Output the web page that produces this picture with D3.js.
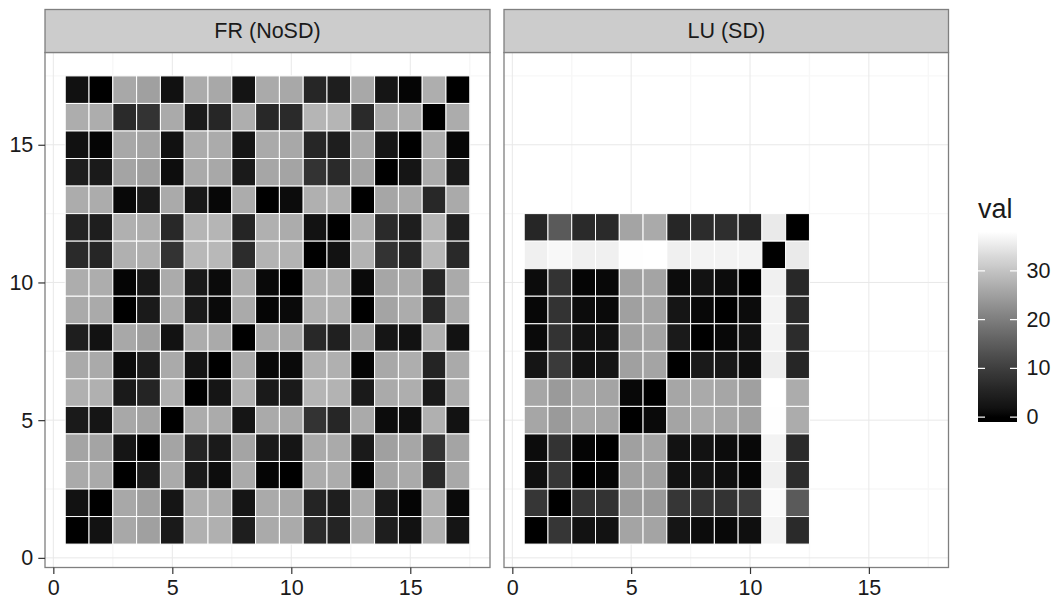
<!DOCTYPE html>
<html>
<head>
<meta charset="utf-8">
<script src="https://cdn.jsdelivr.net/npm/d3@7"></script>
<style>
  html, body { margin: 0; padding: 0; background: #fff; }
  svg { display: block; font-family: "Liberation Sans", Arial, Helvetica, sans-serif; }
</style>
</head>
<body>
<svg id="chart" width="1056" height="600"></svg>
<script>
// Facet labels
const facetLabels = ["FR (NoSD)", "LU (SD)"];

// FR (NoSD): 17 x 17 grid, rows listed from y = 17 (top) down to y = 1
const frVals = [
  [1.9,0,26.2,25.0,1.9,26.6,26.2,2.4,26.4,26.2,5.8,4.3,26.2,2.6,0.5,27.0,0],
  [26.9,26.9,6.5,8.1,26.4,3.5,5.8,27.0,6.1,6.5,28.0,28.0,6.5,26.4,27.0,0,26.7],
  [1.9,0.5,26.2,25.6,1.9,26.7,26.6,2.6,26.4,26.2,5.8,4.3,26.2,2.6,0,27.0,0.6],
  [4.3,3.5,25.6,25.0,1.4,26.4,26.2,3.5,25.9,25.6,8.1,6.5,25.6,0,2.6,26.7,3.5],
  [26.7,26.7,0.8,3.5,26.4,3.1,0.7,26.7,0,1.3,27.3,27.3,0,25.9,26.4,6.1,26.4],
  [5.2,4.3,27.3,27.0,6.1,28.0,28.0,5.6,27.3,26.7,2.1,0,27.3,6.5,4.3,28.0,4.7],
  [6.5,5.8,27.3,27.3,8.1,28.4,28.4,6.9,27.7,27.7,0,2.1,27.7,8.1,5.8,28.4,6.3],
  [26.9,26.9,0.5,3.1,26.6,3.3,1.1,26.9,0.9,0,27.3,27.3,1.0,25.9,26.4,5.8,26.4],
  [26.4,26.4,0,3.5,26.4,3.5,1.0,26.4,0.5,1.0,27.3,27.3,0,25.6,26.7,6.1,26.4],
  [4.3,2.1,26.2,25.0,2.1,26.7,26.4,0,26.4,26.2,6.1,4.7,26.2,2.6,2.1,27.3,2.1],
  [26.4,26.4,1.3,3.9,26.4,2.4,0,26.4,0.8,1.0,27.3,27.3,0.5,26.2,27.0,5.4,26.4],
  [27.3,27.3,3.5,5.4,27.3,0,2.6,27.3,3.5,3.5,28.0,27.7,3.5,26.4,27.0,3.5,26.7],
  [3.5,2.6,26.2,25.6,0,26.7,26.6,2.6,26.4,26.2,8.1,5.8,26.4,1.3,1.6,27.3,2.1],
  [25.6,25.6,2.6,0,25.6,5.4,3.5,25.6,3.5,2.6,26.4,26.4,3.5,25.0,25.9,8.1,25.6],
  [26.4,26.4,0,3.5,26.4,3.5,1.4,26.4,0.5,0,26.7,26.7,0.5,25.6,26.4,6.5,26.2],
  [2.1,0,26.2,25.0,2.6,27.0,26.7,2.6,26.4,26.2,5.4,4.3,26.4,3.5,0.5,27.3,1.0],
  [0,2.1,26.2,25.0,3.5,27.3,27.3,4.3,26.4,26.4,6.5,5.4,26.4,4.3,2.1,27.3,2.6]
];

// LU (SD): 12 x 12 grid, rows listed from y = 12 (top) down to y = 1
const luVals = [
  [5.8,14.6,6.5,6.5,25.6,26.4,5.8,6.9,7.2,5.8,35.2,0],
  [36.0,37.1,36.0,36.0,37.9,38.0,36.0,36.4,36.4,36.4,0,35.2],
  [1.3,8.1,0.5,0.8,25.0,25.6,1.3,2.1,1.3,0,36.0,6.1],
  [0.7,8.1,1.3,1.0,25.0,25.6,2.6,0.8,0,1.3,36.4,6.5],
  [1.0,8.1,2.1,2.1,25.0,25.6,3.5,0,0.8,2.1,36.4,6.9],
  [2.6,9.3,2.1,2.6,25.0,25.6,0,3.5,3.1,1.6,35.8,5.8],
  [25.9,24.2,25.9,25.6,0.8,0,25.9,26.4,25.9,25.0,38.0,26.7],
  [25.9,24.2,25.9,25.6,0,1.0,25.6,26.4,25.9,25.0,37.9,26.7],
  [1.3,8.1,0.5,0,25.0,25.6,2.1,2.1,1.3,0.8,36.4,6.5],
  [1.8,8.6,0,0.6,25.0,25.0,2.1,2.6,1.6,0.6,36.0,6.9],
  [8.6,0,8.1,8.1,24.2,24.2,8.6,8.1,8.1,9.3,37.3,14.6],
  [0,8.6,2.1,2.1,25.6,25.6,2.6,1.3,0.8,1.6,36.4,6.5]
];

// Axis breaks and legend breaks
const axisTicks = [0, 5, 10, 15];
const minorTicks = [2.5, 7.5, 12.5, 17.5];
const legendTicks = [0, 10, 20, 30];
const legendTitle = "val";

const svg = d3.select("#chart");

// Turn a matrix (top row first) into tile records
function toTiles(mat) {
  const n = mat.length;
  const out = [];
  mat.forEach((row, i) => row.forEach((v, j) => out.push({ x: j + 1, y: n - i, v })));
  return out;
}
const panelsData = [toTiles(frVals), toTiles(luVals)];

const allVals = frVals.flat().concat(luVals.flat());
const vMin = d3.min(allVals), vMax = d3.max(allVals);
const fill = d3.scaleLinear().domain([vMin, vMax]).range(["#000000", "#ffffff"])
  .interpolate(d3.interpolateLab).clamp(true);

// Shared scales (fixed facets)
const dom = [-0.35, 18.35];
const panelTop = 52.5, panelBottom = 567.5, stripTop = 9.5;
const panelX = [[45, 490], [504, 948.5]];
const y = d3.scaleLinear().domain(dom).range([panelBottom, panelTop]);

const textCol = "#1a1a1a";
const fontSize = 21.5;

panelsData.forEach((tiles, p) => {
  const [x0, x1] = panelX[p];
  const x = d3.scaleLinear().domain(dom).range([x0, x1]);
  const g = svg.append("g");

  // panel background
  g.append("rect").attr("x", x0).attr("y", panelTop).attr("width", x1 - x0)
    .attr("height", panelBottom - panelTop).attr("fill", "#fff");

  // minor grid
  minorTicks.forEach(t => {
    g.append("line").attr("x1", x(t)).attr("x2", x(t)).attr("y1", panelTop).attr("y2", panelBottom)
      .attr("stroke", "#f7f7f7").attr("stroke-width", 1.4);
    g.append("line").attr("x1", x0).attr("x2", x1).attr("y1", y(t)).attr("y2", y(t))
      .attr("stroke", "#f7f7f7").attr("stroke-width", 1.4);
  });
  // major grid
  axisTicks.forEach(t => {
    g.append("line").attr("x1", x(t)).attr("x2", x(t)).attr("y1", panelTop).attr("y2", panelBottom)
      .attr("stroke", "#e8e8e8").attr("stroke-width", 1);
    g.append("line").attr("x1", x0).attr("x2", x1).attr("y1", y(t)).attr("y2", y(t))
      .attr("stroke", "#e8e8e8").attr("stroke-width", 1);
  });

  // tiles
  g.selectAll("rect.tile").data(tiles).join("rect")
    .attr("class", "tile")
    .attr("x", d => x(d.x - 0.5))
    .attr("y", d => y(d.y + 0.5))
    .attr("width", d => x(d.x + 0.5) - x(d.x - 0.5))
    .attr("height", d => y(d.y - 0.5) - y(d.y + 0.5))
    .attr("fill", d => fill(d.v))
    .attr("stroke", "#ffffff")
    .attr("stroke-width", 1);

  // panel border
  g.append("rect").attr("x", x0).attr("y", panelTop).attr("width", x1 - x0)
    .attr("height", panelBottom - panelTop).attr("fill", "none")
    .attr("stroke", "#7f7f7f").attr("stroke-width", 1.3);

  // strip
  g.append("rect").attr("x", x0).attr("y", stripTop).attr("width", x1 - x0)
    .attr("height", panelTop - stripTop).attr("fill", "#cccccc")
    .attr("stroke", "#7f7f7f").attr("stroke-width", 1.3);
  g.append("text").attr("x", (x0 + x1) / 2).attr("y", 31)
    .attr("text-anchor", "middle").attr("dominant-baseline", "central")
    .attr("font-size", fontSize).attr("fill", textCol).text(facetLabels[p]);

  // x axis
  const xAxis = d3.axisBottom(x).tickValues(axisTicks).tickSize(6.5).tickPadding(6);
  const ax = svg.append("g").attr("transform", `translate(0,${panelBottom})`).call(xAxis);
  ax.select(".domain").remove();
  ax.selectAll("line").attr("stroke", "#333").attr("stroke-width", 1.2);
  ax.selectAll("text").attr("font-size", fontSize).attr("fill", textCol)
    .attr("font-family", "'Liberation Sans', Arial, sans-serif");
});

// y axis (left panel only)
const yAxis = d3.axisLeft(y).tickValues(axisTicks).tickSize(6.7).tickPadding(5);
const ay = svg.append("g").attr("transform", `translate(${panelX[0][0]},0)`).call(yAxis);
ay.select(".domain").remove();
ay.selectAll("line").attr("stroke", "#333").attr("stroke-width", 1.2);
ay.selectAll("text").attr("font-size", fontSize).attr("fill", textCol)
  .attr("font-family", "'Liberation Sans', Arial, sans-serif");

// Colour bar legend
const barX = 978, barW = 39, barTop = 227, barBottom = 422;
const nbin = 20;
const pad = (barBottom - barTop) * 0.5 / nbin;
const ly = d3.scaleLinear().domain([vMin, vMax]).range([barBottom - pad, barTop + pad]);

const defs = svg.append("defs");
const grad = defs.append("linearGradient").attr("id", "valGrad")
  .attr("x1", 0).attr("y1", 1).attr("x2", 0).attr("y2", 0);
d3.range(0, 41).forEach(i => {
  const f = i / 40;
  const v = ly.invert(barBottom - f * (barBottom - barTop));
  grad.append("stop").attr("offset", f).attr("stop-color", fill(v));
});
svg.append("rect").attr("x", barX).attr("y", barTop).attr("width", barW)
  .attr("height", barBottom - barTop).attr("fill", "url(#valGrad)");

legendTicks.forEach(t => {
  const yy = ly(t);
  svg.append("line").attr("x1", barX).attr("x2", barX + 7).attr("y1", yy).attr("y2", yy)
    .attr("stroke", "#fff").attr("stroke-width", 1.2);
  svg.append("line").attr("x1", barX + barW - 7).attr("x2", barX + barW).attr("y1", yy).attr("y2", yy)
    .attr("stroke", "#fff").attr("stroke-width", 1.2);
  svg.append("text").attr("x", barX + barW + 9.5).attr("y", yy)
    .attr("dominant-baseline", "central").attr("font-size", fontSize).attr("fill", textCol)
    .text(t);
});
svg.append("text").attr("x", barX).attr("y", 218).attr("font-size", 27)
  .attr("fill", textCol).text(legendTitle);
</script>
</body>
</html>
